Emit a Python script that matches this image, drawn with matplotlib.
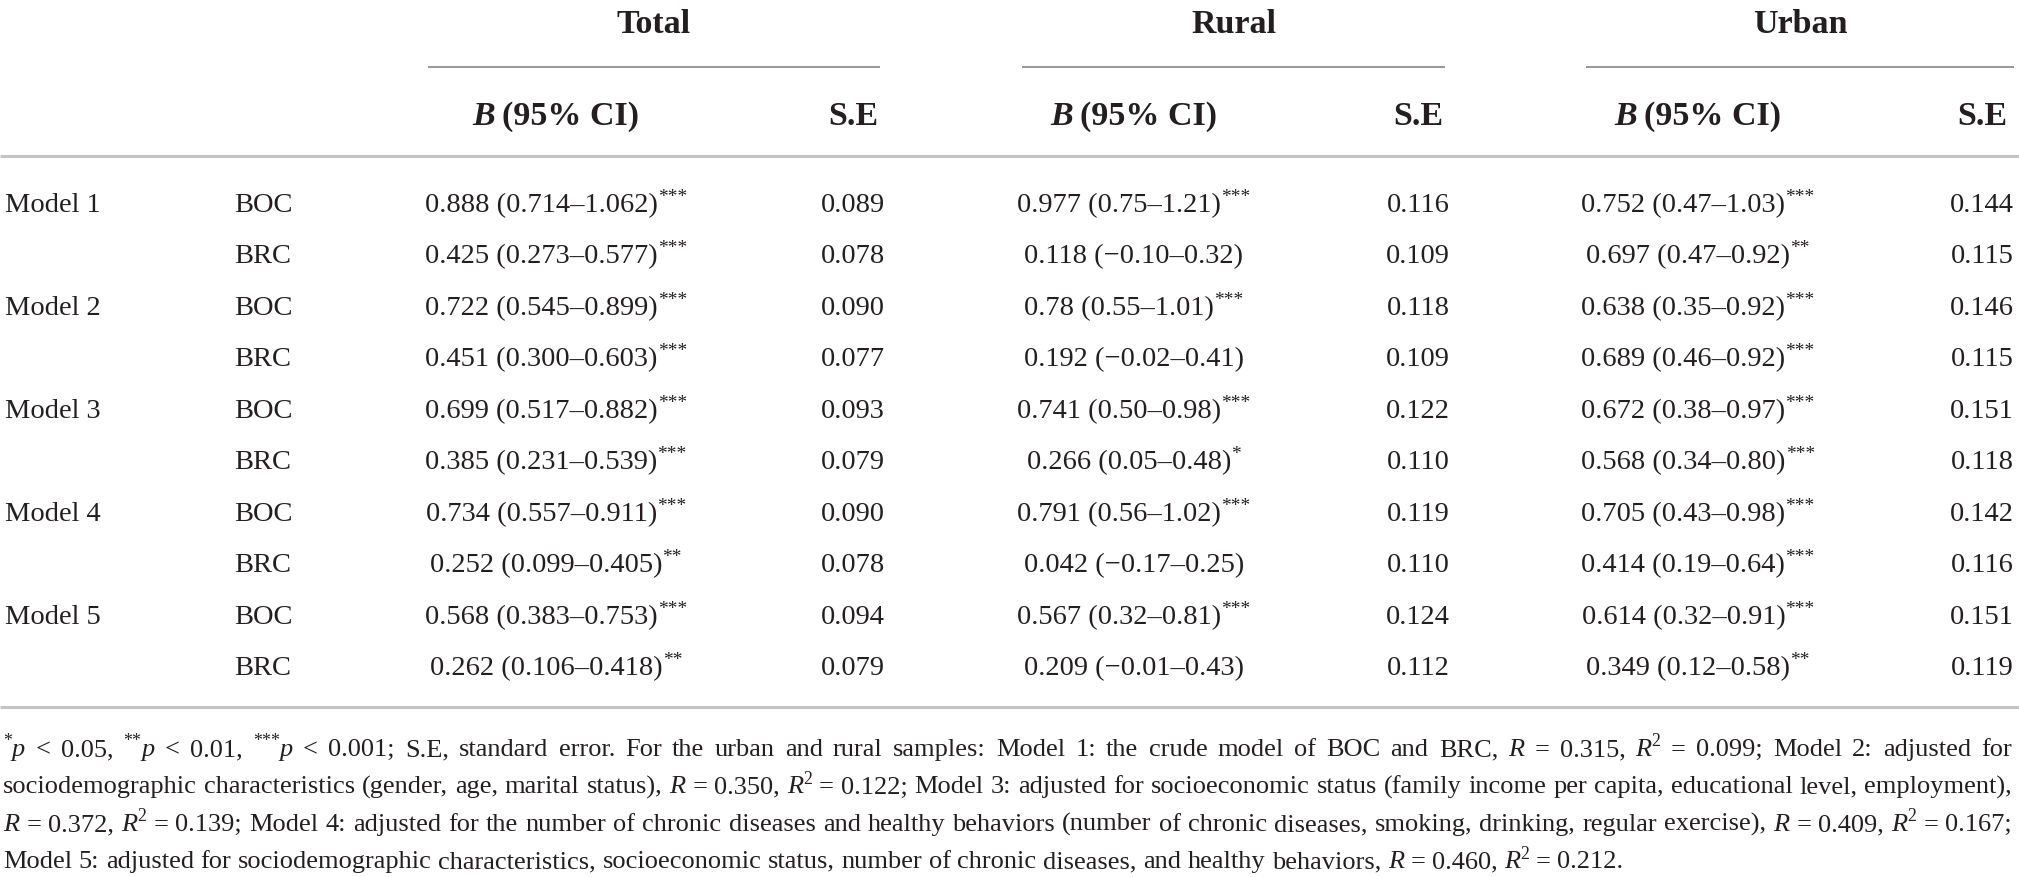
import re
import matplotlib
matplotlib.use('Agg')
import matplotlib.pyplot as plt

plt.rcParams['font.family'] = ['Liberation Serif', 'DejaVu Serif']

# ---- table data ----
groups = ['Total', 'Rural', 'Urban']
models = ['Model 1', 'Model 2', 'Model 3', 'Model 4', 'Model 5']
predictors = ['BOC', 'BRC']

total_b = ['0.888 (0.714–1.062)', '0.425 (0.273–0.577)', '0.722 (0.545–0.899)', '0.451 (0.300–0.603)',
           '0.699 (0.517–0.882)', '0.385 (0.231–0.539)', '0.734 (0.557–0.911)', '0.252 (0.099–0.405)',
           '0.568 (0.383–0.753)', '0.262 (0.106–0.418)']
total_sig = ['***', '***', '***', '***', '***', '***', '***', '**', '***', '**']
total_se = ['0.089', '0.078', '0.090', '0.077', '0.093', '0.079', '0.090', '0.078', '0.094', '0.079']

rural_b = ['0.977 (0.75–1.21)', '0.118 (−0.10–0.32)', '0.78 (0.55–1.01)', '0.192 (−0.02–0.41)',
           '0.741 (0.50–0.98)', '0.266 (0.05–0.48)', '0.791 (0.56–1.02)', '0.042 (−0.17–0.25)',
           '0.567 (0.32–0.81)', '0.209 (−0.01–0.43)']
rural_sig = ['***', '', '***', '', '***', '*', '***', '', '***', '']
rural_se = ['0.116', '0.109', '0.118', '0.109', '0.122', '0.110', '0.119', '0.110', '0.124', '0.112']

urban_b = ['0.752 (0.47–1.03)', '0.697 (0.47–0.92)', '0.638 (0.35–0.92)', '0.689 (0.46–0.92)',
           '0.672 (0.38–0.97)', '0.568 (0.34–0.80)', '0.705 (0.43–0.98)', '0.414 (0.19–0.64)',
           '0.614 (0.32–0.91)', '0.349 (0.12–0.58)']
urban_sig = ['***', '**', '***', '***', '***', '***', '***', '***', '***', '**']
urban_se = ['0.144', '0.115', '0.146', '0.115', '0.151', '0.118', '0.142', '0.116', '0.151', '0.119']

# footnote: `x` = italic, ^x^ = superscript
footnote = [
    "^*^`p` < 0.05, ^**^`p` < 0.01, ^***^`p` < 0.001; S.E, standard error. For the urban and rural samples: "
    "Model 1: the crude model of BOC and BRC, `R` = 0.315, `R`^2^ = 0.099; Model 2: adjusted for",
    "sociodemographic characteristics (gender, age, marital status), `R` = 0.350, `R`^2^ = 0.122; Model 3: "
    "adjusted for socioeconomic status (family income per capita, educational level, employment),",
    "`R` = 0.372, `R`^2^ = 0.139; Model 4: adjusted for the number of chronic diseases and healthy behaviors "
    "(number of chronic diseases, smoking, drinking, regular exercise), `R` = 0.409, `R`^2^ = 0.167;",
    "Model 5: adjusted for sociodemographic characteristics, socioeconomic status, number of chronic "
    "diseases, and healthy behaviors, `R` = 0.460, `R`^2^ = 0.212.",
]

# ---- layout ----
W, H = 2019, 878
TXT = '#231f20'
FS_BODY = 20.5
FS_HEAD = 24.5
FS_NOTE = 19

b_centers = [556, 1134, 1698]
se_centers = [853, 1418, 1982]
group_spans = [(428, 880), (1022, 1445), (1586, 2014)]
row_y0, row_step = 212, 51.5

fig = plt.figure(figsize=(W / 100, H / 100), dpi=100, facecolor='white')
ax = fig.add_axes([0, 0, 1, 1])
ax.set_xlim(0, W)
ax.set_ylim(H, 0)
ax.axis('off')
renderer = fig.canvas.get_renderer()


def draw_runs(x, y, runs, ha='left'):
    # runs: (text, fontsize, weight, style, superscript)
    items = []
    for s, fs, wt, st, sup in runs:
        size = fs * 0.68 if sup else fs
        rise = fs * 100 / 72 * 0.36 if sup else 0
        t = ax.text(0, y - rise, s, fontsize=size, fontweight=wt, fontstyle=st,
                    color=TXT, ha='left', va='baseline')
        items.append((t, t.get_window_extent(renderer).width))
    total = sum(w for _, w in items)
    if ha == 'center':
        x -= total / 2
    elif ha == 'right':
        x -= total
    for t, w in items:
        t.set_x(x)
        x += w
    return items, total


def word_runs(word, fs):
    runs = []
    for seg in re.findall(r'\^[^\^]+\^|`[^`]+`|[^\^`]+', word):
        if seg.startswith('^'):
            runs.append((seg[1:-1], fs, 'normal', 'normal', True))
        elif seg.startswith('`'):
            runs.append((seg[1:-1], fs, 'normal', 'italic', False))
        else:
            runs.append((seg, fs, 'normal', 'normal', False))
    return runs


# group headers and rules
for g, (x0, x1) in zip(groups, group_spans):
    ax.text((x0 + x1) / 2, 33, g, fontsize=FS_HEAD, fontweight='bold', color=TXT,
            ha='center', va='baseline')
    ax.plot([x0, x1], [68, 68], color='#7a7a7a', lw=1.1, solid_capstyle='butt')

for bc, sc in zip(b_centers, se_centers):
    draw_runs(bc, 125, [('B', FS_HEAD, 'bold', 'italic', False),
                        ('\u2009', FS_HEAD, 'bold', 'normal', False),
                        ('(95% CI)', FS_HEAD, 'bold', 'normal', False)], ha='center')
    ax.text(sc, 125, 'S.E', fontsize=FS_HEAD, fontweight='bold', color=TXT,
            ha='center', va='baseline')

ax.plot([0, W], [157, 157], color='#c4c4c4', lw=2.2, solid_capstyle='butt')

# body rows
cols = [(total_b, total_sig, total_se), (rural_b, rural_sig, rural_se), (urban_b, urban_sig, urban_se)]
for i in range(len(models) * len(predictors)):
    y = row_y0 + i * row_step
    if i % 2 == 0:
        ax.text(5, y, models[i // 2], fontsize=FS_BODY, color=TXT, ha='left', va='baseline')
    ax.text(263, y, predictors[i % 2], fontsize=FS_BODY, color=TXT, ha='center', va='baseline')
    for (bvals, sig, se), bc, sc in zip(cols, b_centers, se_centers):
        runs = [(bvals[i], FS_BODY, 'normal', 'normal', False)]
        if sig[i]:
            runs.append((sig[i], FS_BODY, 'normal', 'normal', True))
        draw_runs(bc, y, runs, ha='center')
        ax.text(sc, y, se[i], fontsize=FS_BODY, color=TXT, ha='center', va='baseline')

ax.plot([0, W], [708, 708], color='#c4c4c4', lw=2.2, solid_capstyle='butt')

# footnote, justified like the journal layout
note_y0, note_step = 756, 37.5
left, right = 3, 2012
space = FS_NOTE * 100 / 72 * 0.25
for k, line in enumerate(footnote):
    y = note_y0 + k * note_step
    words = [draw_runs(0, y, word_runs(w, FS_NOTE)) for w in line.split(' ')]
    widths = [tw for _, tw in words]
    if k < len(footnote) - 1:
        gap = (right - left - sum(widths)) / (len(words) - 1)
    else:
        gap = space
    x = left
    for items, tw in words:
        for t, w in items:
            t.set_x(x)
            x += w
        x += gap

fig.savefig('out.png', dpi=100, facecolor='white')
